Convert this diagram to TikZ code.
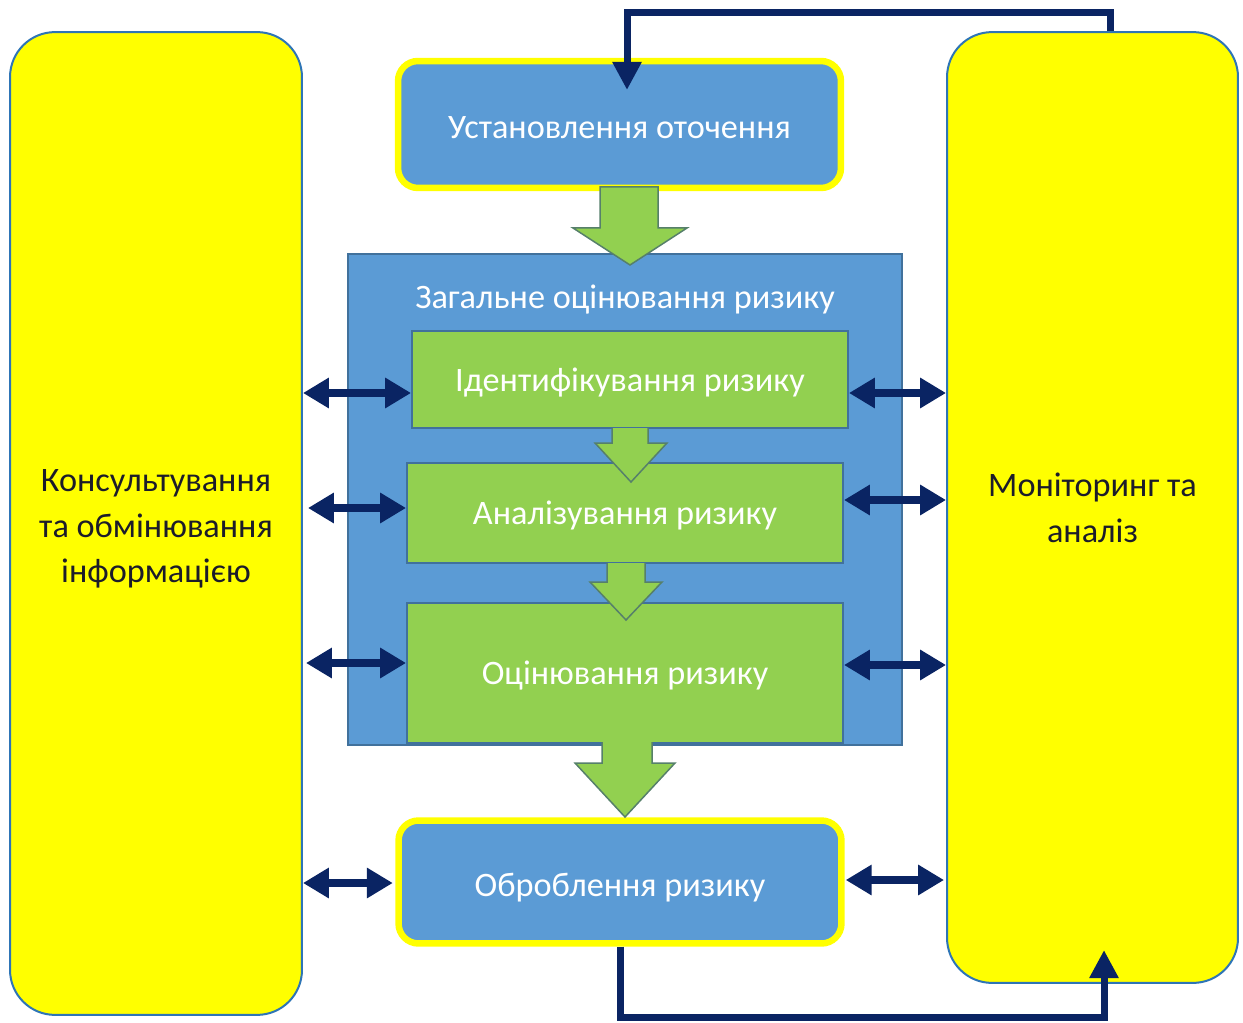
\documentclass[tikz,border=0pt]{standalone}
\usepackage{fontspec}
\setmainfont{Carlito}
\usetikzlibrary{arrows.meta,calc}
\definecolor{boxblue}{HTML}{5B9BD5}
\definecolor{edgeblue}{HTML}{41719C}
\definecolor{sideedge}{HTML}{2E75B6}
\definecolor{leafgreen}{HTML}{92D050}
\definecolor{arrowedge}{HTML}{56806A}
\definecolor{navy}{HTML}{0A2463}
\definecolor{signyellow}{HTML}{FFFF00}
\definecolor{inkdark}{HTML}{1C1C2A}
\begin{document}
\begin{tikzpicture}[x=0.02cm,y=-0.02cm,
  every node/.style={font=\fontsize{19.5}{26}\selectfont, align=center, inner sep=0pt},
  sidebox/.style={draw=sideedge, line width=0.04cm, fill=signyellow, rounded corners=0.9cm, text=inkdark},
  sidetext/.style={text=inkdark},
  stagebox/.style={draw=signyellow, line width=0.13cm, fill=boxblue, rounded corners=0.4cm,
    text=white, minimum width=8.86cm, text height=16pt, text depth=0pt},
  greenbox/.style={draw=edgeblue, line width=0.04cm, fill=leafgreen, text=white, minimum width=8.72cm,
    text depth=0pt},
  blockarrow/.style={fill=leafgreen, draw=arrowedge, line width=0.03cm, line join=miter},
  biarrow/.style={draw=navy, line width=0.16cm,
    arrows={Triangle[length=0.52cm,width=0.58cm]-Triangle[length=0.52cm,width=0.58cm]}},
  feedback/.style={draw=navy, line width=0.14cm, line join=miter,
    arrows={-Triangle[length=0.56cm,width=0.55cm]}}
]
\useasboundingbox (0,0) rectangle (1243,1023);

% side panels
\node[sidebox, minimum width=5.84cm, minimum height=19.66cm] (lefty) at (156,523.5) {};
\node[sidetext] (leftcaption) at (lefty.center |- 0,529)
  {Консультування\\та обмінювання\\інформацією};
\node[sidebox, minimum width=5.82cm, minimum height=19.02cm] (righty) at (1092.5,507.5)
  {Моніторинг та\\аналіз};

% assessment block
\node[draw=edgeblue, fill=boxblue, line width=0.04cm, minimum width=11.08cm, minimum height=9.82cm]
  (assess) at (625,499.5) {};
\node[text=white, text depth=0pt] (assesstitle) at (625,297) {Загальне оцінювання ризику};

\node[greenbox, minimum height=1.94cm] (ident) at (630,379.5) {Ідентифікування ризику};
\node[greenbox, minimum height=2.0cm] (analys) at (625,513) {Аналізування ризику};
\node[greenbox, minimum height=2.8cm] (evalu) at (625,673) {Оцінювання ризику};

% context and treatment
\node[stagebox, minimum height=2.54cm] (context) at (619.5,124.5) {Установлення оточення};
\node[stagebox, minimum height=2.46cm] (treat) at (620,882) {Оброблення ризику};

% green flow arrows
\draw[blockarrow] (600,187) -- (600,228) -- (573,228) -- (630,265) -- (687,228) -- (658,228) -- (658,187) -- cycle;
\draw[blockarrow] (612,428) -- (612,443) -- (595,443) -- (631,482) -- (667,443) -- (648,443) -- (648,428);
\draw[blockarrow] (607,563) -- (607,582) -- (590,582) -- (626,620) -- (662,582) -- (645,582) -- (645,563);
\draw[blockarrow] (602,742) -- (602,763) -- (575,763) -- (625,817) -- (675,763) -- (652,763) -- (652,742);

% exchange arrows
\coordinate (la) at (0,393);
\coordinate (lb) at (0,508);
\coordinate (lc) at (0,663);
\coordinate (ld) at (0,883);
\coordinate (ra) at (0,393);
\coordinate (rb) at (0,500);
\coordinate (rc) at (0,665);
\coordinate (rd) at (0,880);
\draw[biarrow] (lefty.east |- la) -- (ident.west |- la);
\draw[biarrow] ([xshift=0.1cm]lefty.east |- lb) -- (analys.west |- lb);
\draw[biarrow] ([xshift=0.06cm]lefty.east |- lc) -- (evalu.west |- lc);
\draw[biarrow] (lefty.east |- ld) -- ([xshift=-0.05cm]treat.west |- ld);
\draw[biarrow] (ident.east |- ra) -- (righty.west |- ra);
\draw[biarrow] (analys.east |- rb) -- (righty.west |- rb);
\draw[biarrow] (evalu.east |- rc) -- (righty.west |- rc);
\draw[biarrow] ([xshift=0.02cm]treat.east |- rd) -- ([xshift=-0.04cm]righty.west |- rd);

% feedback loops
\coordinate (topin) at (627,90);
\coordinate (topturn) at (627,13);
\coordinate (botin) at (1104,950);
\coordinate (botturn) at (1104,1017);
\draw[feedback] ([xshift=0.35cm]righty.north) |- (topturn) -- (topin);
\draw[feedback] (treat.south) |- (botturn) -- (botin);
\end{tikzpicture}
\end{document}
